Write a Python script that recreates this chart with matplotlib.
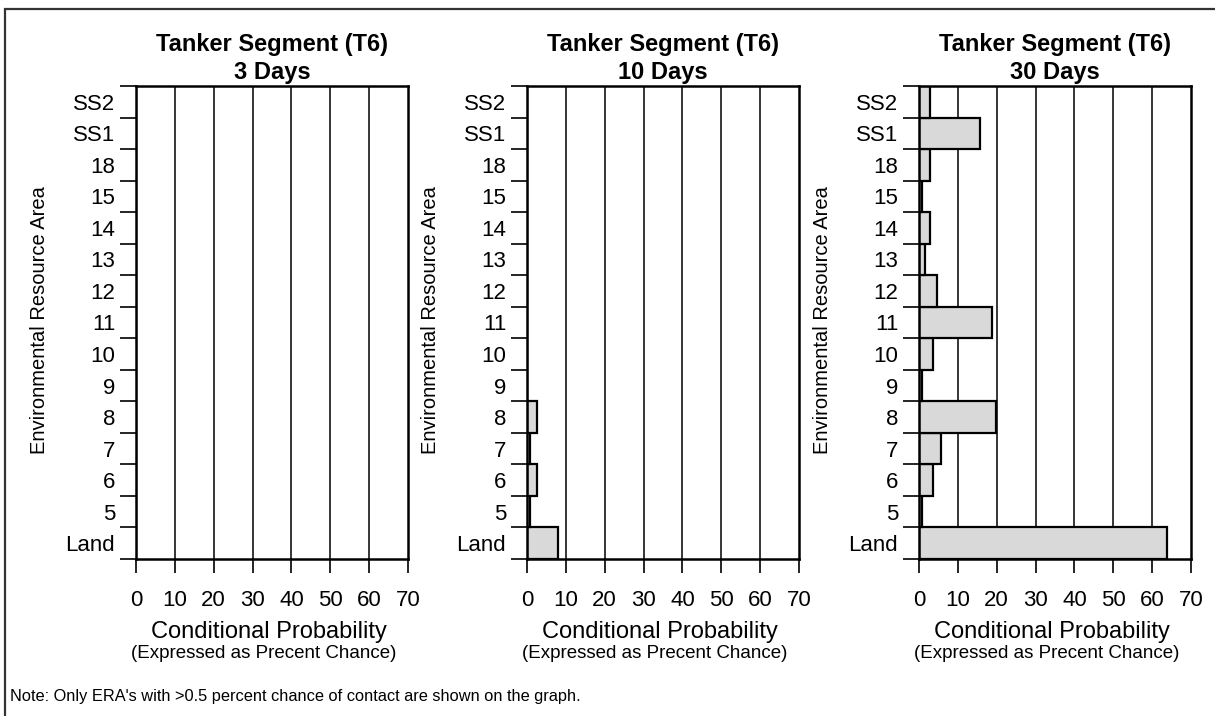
import matplotlib.pyplot as plt
from matplotlib.patches import Rectangle

plt.rcParams['font.family'] = ['Liberation Sans', 'DejaVu Sans']

# categories from bottom to top
areas = ['Land', '5', '6', '7', '8', '9', '10', '11', '12', '13', '14', '15', '18', 'SS1', 'SS2']
titles = ['3 Days', '10 Days', '30 Days']

# conditional probability (percent), bottom to top
days3 = [0, 0, 0, 0, 0, 0, 0, 0, 0, 0, 0, 0, 0, 0, 0]
days10 = [7.9, 0.8, 2.7, 0.8, 2.7, 0, 0, 0, 0, 0, 0, 0, 0, 0, 0]
days30 = [63.8, 0.8, 3.7, 5.7, 19.9, 0.8, 3.6, 18.7, 4.6, 1.6, 2.8, 0.8, 2.8, 15.7, 2.8]
series = [days3, days10, days30]

xticks = [0, 10, 20, 30, 40, 50, 60, 70]

W, H = 1215, 716
fig = plt.figure(figsize=(W / 100, H / 100), dpi=100)

# outer frame (left and top edges visible)
fig.patches.append(Rectangle((5 / W, -0.1), 1.2, 1.1 - 9 / H, transform=fig.transFigure,
                             fill=False, edgecolor='#333333', linewidth=1.6))

lefts = [136, 527, 919]
n = len(areas)
for left, title, vals in zip(lefts, titles, series):
    ax = fig.add_axes([left / W, 1 - 559 / H, 272 / W, 473 / H])
    ypos = list(range(n))
    ax.barh(ypos, vals, height=1.0, color='#d9d9d9', edgecolor='black', linewidth=1.6, zorder=3)
    for g in xticks[1:-1]:
        ax.axvline(g, color='black', linewidth=1.1, zorder=1)
    ax.set_xlim(0, 70)
    ax.set_ylim(-0.5, n - 0.5)
    ax.set_xticks(xticks)
    ax.set_xticklabels([str(t) for t in xticks], fontsize=16)
    ax.tick_params(axis='x', length=10, width=1.2, pad=12, direction='out')
    ax.set_yticks([i - 0.5 for i in range(n + 1)])
    ax.set_yticklabels([])
    ax.set_yticks(ypos, minor=True)
    ax.set_yticklabels(areas, minor=True, fontsize=16)
    ax.tick_params(axis='y', which='major', length=11.5, width=1.2, direction='out')
    ax.tick_params(axis='y', which='minor', length=0, pad=15)
    for s in ax.spines.values():
        s.set_linewidth(1.8)
        s.set_zorder(4)
    cx = (left + 136) / W
    fig.text(cx, 1 - 44 / H, 'Tanker Segment (T6)', ha='center', va='center',
             fontsize=17, fontweight='bold')
    fig.text(cx, 1 - 72 / H, title, ha='center', va='center',
             fontsize=17, fontweight='bold')
    fig.text(cx - 3 / W, 1 - 632 / H, 'Conditional Probability', ha='center', va='center', fontsize=17)
    fig.text(cx - 8 / W, 1 - 654 / H, '(Expressed as Precent Chance)', ha='center', va='center', fontsize=13.5)
    fig.text((left - 96) / W, 1 - 320 / H, 'Environmental Resource Area', ha='center', va='center',
             rotation=90, fontsize=14.5)

fig.text(10 / W, 1 - 697 / H, "Note: Only ERA's with >0.5 percent chance of contact are shown on the graph.",
         ha='left', va='center', fontsize=11.8)

plt.savefig('out.png', dpi=100)
